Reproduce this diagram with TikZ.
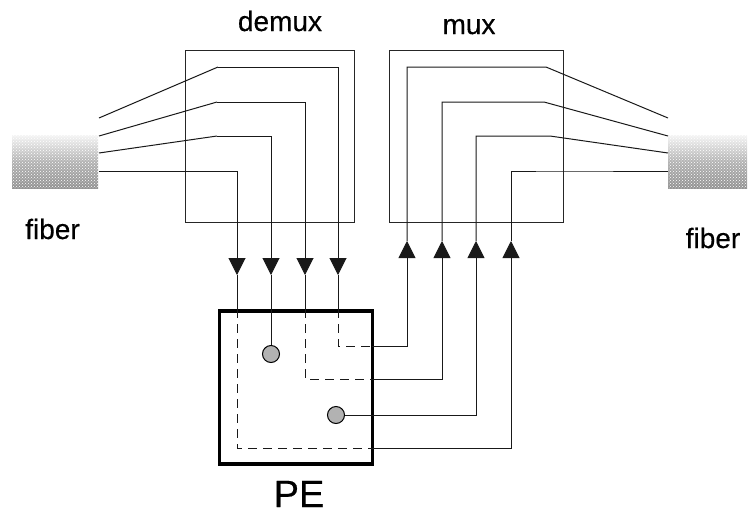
\documentclass[tikz,border=0pt]{standalone}
\usepackage{fontspec}
\setmainfont{Liberation Sans}[FakeBold=0.35]
\usetikzlibrary{arrows.meta,patterns}

\tikzset{
  wire/.style={line width=1pt,black!90},
  tipped/.style={wire,-{Triangle[width=17pt,length=17pt]}},
  inside/.style={wire,line width=0.8pt,dash pattern=on 9pt off 6pt},
  muxbox/.style={draw,line width=1pt,black!85,inner sep=0,minimum width=#1,minimum height=172},
  pebox/.style={draw,line width=3.2pt,black,inner sep=0,minimum width=153,minimum height=153},
  fiberend/.style={inner sep=0,minimum width=#1,minimum height=53,top color=gray!8,bottom color=gray!85,middle color=gray!60,
    postaction={pattern=crosshatch dots,pattern color=white}},
  dropdot/.style={circle,draw,line width=1pt,fill=gray!60,inner sep=0,minimum size=17},
  caption/.style={inner sep=0,anchor=base,font=\fontsize{28}{30}\selectfont}
}

\begin{document}
\begin{tikzpicture}[x=1pt,y=-1pt]
\useasboundingbox (0,0) rectangle (748,515);

\node[muxbox=169] (demux) at (269.5,136) {};
\node[muxbox=174] (mux) at (476,136) {};
\node[fiberend=86] (fiberl) at (55,161.5) {};
\node[fiberend=79] (fiberr) at (707.5,161.5) {};
\node[pebox] (pe) at (296,387.5) {};
\node[dropdot] (dot1) at (271,354) {};
\node[dropdot] (dot2) at (336,415) {};

\node[caption] (demuxlabel) at (280,31) {demux};
\node[caption] (muxlabel) at (469,34) {mux};
\node[caption] (fiberllabel) at (52.5,239) {fiber};
\node[caption] (fiberrlabel) at (713,248) {fiber};
\node[caption,font=\fontsize{38}{44}\selectfont] (pelabel) at (299,507) {PE};

% demux channels
\foreach \i/\ys/\xk/\yk/\xd in {1/118/218/67/338,2/136/217/102/305,3/153/217/136/271,4/171/230/171/237}{
  \coordinate (in\i) at (99,\ys);
  \coordinate (bend\i) at (\xk,\yk);
  \coordinate (down\i) at (\xd,275);
  \draw[wire] (in\i) -- (bend\i);
  \draw[tipped] (bend\i) -| (down\i);
}
% mux channels
\foreach \i/\ys/\xk/\yk/\xd in {1/118/546/67/407,2/136/544/102/442,3/153/550/136/476,4/171/560/171/511}{
  \coordinate (out\i) at (668,\ys);
  \coordinate (turn\i) at (\xk,\yk);
  \coordinate (up\i) at (\xd,241);
  \draw[wire] (out\i) -- (turn\i) -| (up\i);
}

% inside the PE
\coordinate (drop1) at (338,346);
\coordinate (exit1) at (372,346);
\coordinate (drop3) at (305,379);
\coordinate (exit3) at (372,379);
\coordinate (drop4) at (237,448);
\coordinate (exit4) at (372,448);

\draw[inside] (down1 |- pe.north) -- (drop1) -- (exit1);
\draw[inside] (down2 |- pe.north) -- (drop3) -- (exit3);
\draw[inside] (down4 |- pe.north) -- (drop4) -- (exit4);

\draw[wire] (down1) -- (down1 |- pe.north);
\draw[wire] (down2) -- (down2 |- pe.north);
\draw[wire] (down4) -- (down4 |- pe.north);
\draw[wire] (down3) -- (dot1);

\draw[tipped] (exit1) -| (up1);
\draw[tipped] (exit3) -| (up2);
\draw[tipped] (dot2) -| (up3);
\draw[tipped] (exit4) -| (up4);
\end{tikzpicture}
\end{document}
